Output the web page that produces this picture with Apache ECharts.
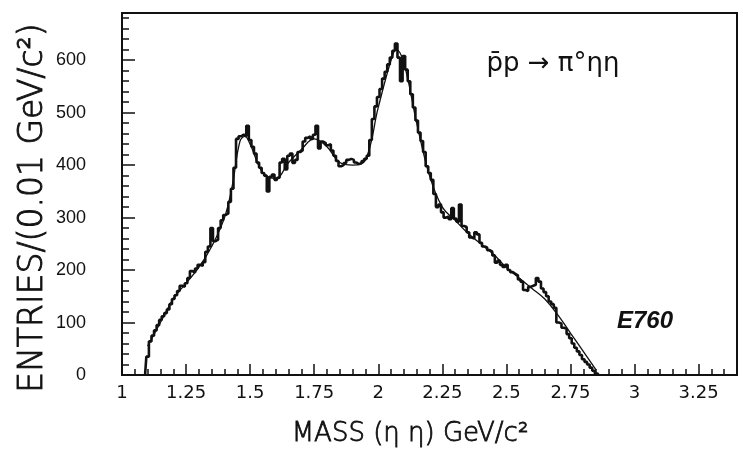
<!DOCTYPE html>
<html><head><meta charset="utf-8">
<script src="https://cdn.jsdelivr.net/npm/echarts@6/dist/echarts.min.js"></script>
<style>html,body{margin:0;padding:0;background:#fff}#c{width:743px;height:456px}</style>
</head><body><div id="c"></div>
<script>
// Histogram bins (0.01 GeV/c^2 wide), bin centres in GeV/c^2
const binMass = [1.09,
1.10,1.11,1.12,1.13,1.14,1.15,1.16,1.17,1.18,1.19,
1.20,1.21,1.22,1.23,1.24,1.25,1.26,1.27,1.28,1.29,
1.30,1.31,1.32,1.33,1.34,1.35,1.36,1.37,1.38,1.39,
1.40,1.41,1.42,1.43,1.44,1.45,1.46,1.47,1.48,1.49,
1.50,1.51,1.52,1.53,1.54,1.55,1.56,1.57,1.58,1.59,
1.60,1.61,1.62,1.63,1.64,1.65,1.66,1.67,1.68,1.69,
1.70,1.71,1.72,1.73,1.74,1.75,1.76,1.77,1.78,1.79,
1.80,1.81,1.82,1.83,1.84,1.85,1.86,1.87,1.88,1.89,
1.90,1.91,1.92,1.93,1.94,1.95,1.96,1.97,1.98,1.99,
2.00,2.01,2.02,2.03,2.04,2.05,2.06,2.07,2.08,2.09,
2.10,2.11,2.12,2.13,2.14,2.15,2.16,2.17,2.18,2.19,
2.20,2.21,2.22,2.23,2.24,2.25,2.26,2.27,2.28,2.29,
2.30,2.31,2.32,2.33,2.34,2.35,2.36,2.37,2.38,2.39,
2.40,2.41,2.42,2.43,2.44,2.45,2.46,2.47,2.48,2.49,
2.50,2.51,2.52,2.53,2.54,2.55,2.56,2.57,2.58,2.59,
2.60,2.61,2.62,2.63,2.64,2.65,2.66,2.67,2.68,2.69,
2.70,2.71,2.72,2.73,2.74,2.75,2.76,2.77,2.78,2.79,
2.80,2.81,2.82,2.83,2.84,2.85,2.86];
const binEntries = [0,
35,64,75,85,95,105,112,118,125,135,
145,152,160,170,168,175,185,198,195,203,
210,208,215,235,245,280,255,258,280,295,
305,308,330,355,395,450,455,458,455,475,
448,435,422,405,395,385,380,350,378,382,
372,376,405,412,392,418,422,404,410,425,
428,445,452,455,450,458,475,432,445,442,
438,440,428,418,408,398,400,404,410,412,
410,405,402,404,408,412,418,448,488,512,
530,545,565,578,592,605,618,632,605,560,
608,582,560,535,510,485,462,446,425,398,
385,372,345,320,325,310,300,302,297,318,
298,292,325,284,282,272,262,260,272,268,
252,245,243,238,235,228,214,218,210,206,
210,200,196,193,190,182,178,162,160,168,
170,172,185,178,165,158,150,140,135,128,
100,98,90,88,78,70,60,52,45,38,
30,25,20,14,8,3,0];
// Fitted curve
const fitMass = [1.10,1.15,1.20,1.25,1.30,1.35,1.40,1.43,1.46,1.48,1.50,1.55,1.60,1.65,1.70,1.75,1.80,1.85,1.90,1.95,2.00,2.05,2.07,2.10,2.15,2.20,2.25,2.30,2.35,2.40,2.45,2.50,2.55,2.60,2.65,2.70,2.75,2.80,2.85];
const fitEntries = [55,100,145,175,205,245,300,360,445,455,440,385,375,405,430,450,435,405,400,410,510,600,620,595,480,380,320,295,270,250,230,205,185,165,145,115,80,45,10];
// Tick labels
const xTickLabels = ['1','1.25','1.5','1.75','2','2.25','2.5','2.75','3','3.25'];
const yTickLabels = ['0','100','200','300','400','500','600'];

const FONT = 'Liberation Sans, Arial, sans-serif';
const WIDE = 'DejaVu Sans, sans-serif';
const ink = '#111';
const chart = echarts.init(document.getElementById('c'), null, {renderer: 'canvas'});
const pair = (xs, ys) => xs.map((x, i) => [x, ys[i]]);
const xLab = v => { const s = String(Math.round(v * 100) / 100); return xTickLabels.includes(s) ? s : ''; };
const yLab = v => { const s = String(Math.round(v)); return yTickLabels.includes(s) ? s : ''; };

chart.setOption({
  animation: false,
  backgroundColor: '#fff',
  grid: {left: 122, right: 6, top: 13, bottom: 81, show: true, borderColor: ink, borderWidth: 2, backgroundColor: 'transparent'},
  xAxis: [
    {type: 'value', min: 1, max: 3.4, interval: 0.25, position: 'bottom',
     axisLine: {show: true, onZero: false, lineStyle: {color: ink, width: 2}},
     axisTick: {show: true, inside: true, length: 11, lineStyle: {color: ink, width: 1.5}},
     axisLabel: {show: true, formatter: xLab, showMaxLabel: false, margin: 9, color: ink, fontSize: 18, fontFamily: WIDE},
     splitLine: {show: false}},
    {type: 'value', min: 1, max: 3.4, interval: 0.05, position: 'bottom',
     axisLine: {show: false, onZero: false},
     axisTick: {show: true, inside: true, length: 6, lineStyle: {color: ink, width: 1.5}},
     axisLabel: {show: false}, splitLine: {show: false}}
  ],
  yAxis: [
    {type: 'value', min: 0, max: 690, interval: 100, position: 'left',
     axisLine: {show: true, onZero: false, lineStyle: {color: ink, width: 2}},
     axisTick: {show: true, inside: true, length: 13, lineStyle: {color: ink, width: 1.5}},
     axisLabel: {show: true, formatter: yLab, showMaxLabel: false, margin: 36, color: ink, fontSize: 18, fontFamily: FONT},
     splitLine: {show: false}},
    {type: 'value', min: 0, max: 690, interval: 20, position: 'left',
     axisLine: {show: false, onZero: false},
     axisTick: {show: true, inside: true, length: 7, lineStyle: {color: ink, width: 1.5}},
     axisLabel: {show: false}, splitLine: {show: false}}
  ],
  series: [
    {name: 'data', type: 'line', xAxisIndex: 0, yAxisIndex: 0, step: 'middle',
     data: pair(binMass, binEntries), symbol: 'none',
     lineStyle: {color: ink, width: 2.6}},
    {name: 'fit', type: 'line', xAxisIndex: 0, yAxisIndex: 0, smooth: 0.4,
     data: pair(fitMass, fitEntries), symbol: 'none',
     lineStyle: {color: ink, width: 1.3}}
  ],
  graphic: [
    {type: 'text', x: 33, y: 208, rotation: Math.PI / 2,
     style: {text: 'ENTRIES/(0.01 GeV/c²)', fill: ink, stroke: ink, lineWidth: 0.9, font: '200 33px ' + WIDE, align: 'center', verticalAlign: 'middle'}},
    {type: 'text', x: 410, y: 434,
     style: {text: 'MASS (η η) GeV/c²', fill: ink, stroke: ink, lineWidth: 0.8, font: '200 26px ' + WIDE, align: 'center', verticalAlign: 'middle'}},
    {type: 'text', x: 553, y: 64,
     style: {text: 'p̄p → π°ηη', fill: ink, font: '26px ' + WIDE, align: 'center', verticalAlign: 'middle'}},
    {type: 'text', x: 645, y: 321,
     style: {text: 'E760', fill: ink, font: 'italic bold 24px ' + FONT, align: 'center', verticalAlign: 'middle'}}
  ]
});
</script></body></html>
